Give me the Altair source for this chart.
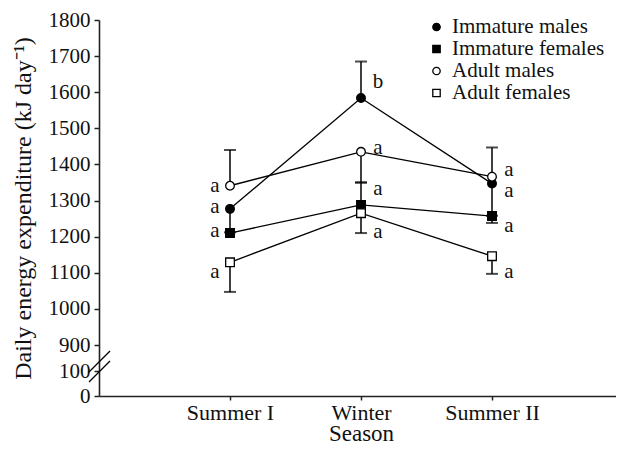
import altair as alt
import pandas as pd

seasons = ["Summer I", "Winter", "Summer II"]
groups = ["Immature males", "Immature females", "Adult males", "Adult females"]
shapes = ["circle", "square", "circle", "square"]
fills = ["black", "black", "white", "white"]

means = {
    "Immature males": [1277, 1584, 1347],
    "Immature females": [1210, 1288, 1257],
    "Adult males": [1341, 1435, 1366],
    "Adult females": [1129, 1265, 1146],
}
err_end = {
    "Immature males": [1212, 1685, 1258],
    "Immature females": [None, 1350, 1238],
    "Adult males": [1440, 1350, 1447],
    "Adult females": [1047, 1210, 1097],
}
letters = {
    "Immature males": ["a", "b", "a"],
    "Immature females": ["a", "a", "a"],
    "Adult males": ["a", "a", "a"],
    "Adult females": ["a", "a", "a"],
}
letter_y = {
    "Immature males": [1282, 1627, 1327],
    "Immature females": [1217, 1332, 1230],
    "Adult males": [1341, 1446, 1386],
    "Adult females": [1101, 1212, 1102],
}
y_ticks = [0, 100, 900, 1000, 1100, 1200, 1300, 1400, 1500, 1600, 1700, 1800]
y_domain = [0, 100, 900, 1800]

rows = []
for g in groups:
    for i, s in enumerate(seasons):
        rows.append({
            "group": g, "season": s, "idx": i,
            "mean": means[g][i], "end": err_end[g][i],
            "letter": letters[g][i], "ly": letter_y[g][i],
        })
df = pd.DataFrame(rows)

FONT = "Liberation Serif"
W, H = 517, 376
XR = 524

x_scale = alt.Scale(domain=seasons, type="point", padding=1, range=[0, XR])
x_axis = alt.Axis(title="Season", labelAngle=0, tickSize=4, labelPadding=19,
                  labelBaseline="alphabetic", titleBaseline="alphabetic", titleY=44,
                  titleX=262, domainWidth=1.6, tickWidth=1.5, labelFontSize=22,
                  titleFontSize=23)
y_scale = alt.Scale(domain=y_domain, range=[H, H - 25, H - 51, 0], nice=False, zero=False)
y_axis = alt.Axis(title="Daily energy expenditure (kJ day\u207b\u00b9)", values=y_ticks,
                  format="d", labelOverlap=False, labelFlush=False,
                  tickSize=5, labelPadding=4, titlePadding=13, domainWidth=1.6,
                  tickWidth=1.5, grid=False, labelFontSize=21, titleFontSize=24)


def xs():
    return alt.X("season:N", scale=x_scale, axis=x_axis)


def yq(field):
    return alt.Y(field, scale=y_scale, axis=y_axis)


base = alt.Chart(df)

lines = base.mark_line(color="black", strokeWidth=1.3).encode(
    x=xs(), y=yq("mean:Q"), detail="group:N", order="idx:Q")

bars = base.mark_rule(color="black", strokeWidth=1.5).encode(
    x=xs(), y=yq("mean:Q"), y2="end:Q"
).transform_filter("isValid(datum.end)")

caps = base.mark_tick(color="black", size=12, thickness=2).encode(
    x=xs(), y=yq("end:Q")
).transform_filter("isValid(datum.end)")

leg = alt.Legend(title=None, orient="none", legendX=327, legendY=-3.5,
                 labelFontSize=21, labelFont=FONT, labelColor="#111", symbolSize=55,
                 symbolStrokeWidth=1.3, labelOffset=5, rowPadding=0, padding=0)

points = base.mark_point(filled=True, stroke="black", strokeWidth=1.3, size=75, opacity=1).encode(
    x=xs(),
    y=yq("mean:Q"),
    shape=alt.Shape("group:N", scale=alt.Scale(domain=groups, range=shapes), legend=leg),
    fill=alt.Fill("group:N", scale=alt.Scale(domain=groups, range=fills), legend=leg),
)

txt_left = base.mark_text(font=FONT, fontSize=21, color="#111", dx=-15, baseline="middle").encode(
    x=xs(), y=yq("ly:Q"), text="letter:N"
).transform_filter("datum.idx == 0")
txt_right = base.mark_text(font=FONT, fontSize=21, color="#111", dx=17, baseline="middle").encode(
    x=xs(), y=yq("ly:Q"), text="letter:N"
).transform_filter("datum.idx > 0")

brk = pd.DataFrame({"k": [0]})
slash1 = alt.Chart(brk).mark_rule(color="black", strokeWidth=1.3).encode(
    x=alt.value(-10), x2=alt.value(11), y=alt.value(352), y2=alt.value(331))
slash2 = alt.Chart(brk).mark_rule(color="black", strokeWidth=1.3).encode(
    x=alt.value(-10), x2=alt.value(11), y=alt.value(362), y2=alt.value(341))

chart = alt.layer(lines, bars, caps, points, txt_left, txt_right, slash1, slash2).properties(
    width=W, height=H, padding={"left": 91, "top": 12, "right": 0, "bottom": 45},
    autosize=alt.AutoSizeParams(type="none"),
).configure_view(stroke=None).configure_axis(
    labelFont=FONT, titleFont=FONT, labelColor="#111", titleColor="#111",
    domainColor="#222", tickColor="#222", titleFontWeight="normal",
)

chart.save("out.html", embed_options={"renderer": "svg", "actions": False})
